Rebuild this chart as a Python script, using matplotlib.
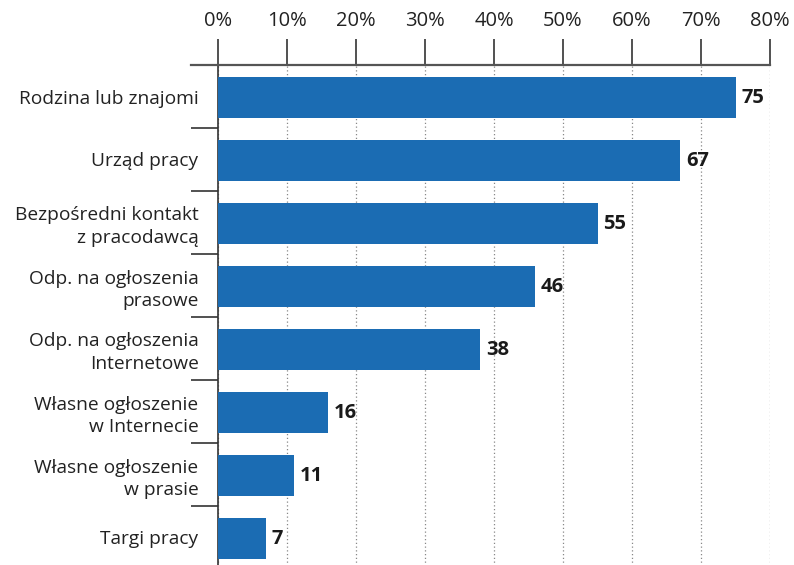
import matplotlib
matplotlib.use("Agg")
import matplotlib.pyplot as plt
from matplotlib.ticker import FixedLocator, FuncFormatter

plt.rcParams['font.family'] = ['Open Sans', 'DejaVu Sans']

categories = [
    "Rodzina lub znajomi",
    "Urząd pracy",
    "Bezpośredni kontakt\nz pracodawcą",
    "Odp. na ogłoszenia\nprasowe",
    "Odp. na ogłoszenia\nInternetowe",
    "Własne ogłoszenie\nw Internecie",
    "Własne ogłoszenie\nw prasie",
    "Targi pracy",
]
values = [75, 67, 55, 46, 38, 16, 11, 7]
x_ticks = [0, 10, 20, 30, 40, 50, 60, 70, 80]

BAR_COLOR = "#1b6cb3"
W, H = 794, 565
fig = plt.figure(figsize=(W / 100, H / 100), dpi=100)
left, right = 218 / W, 770 / W
top, bottom = 1 - 65 / H, 1 - 569 / H
ax = fig.add_axes([left, bottom, right - left, top - bottom])

ypos = list(range(len(categories)))
ax.barh([y + 0.02 for y in ypos], values, height=0.65, color=BAR_COLOR, zorder=3)

for y, v in zip(ypos, values):
    ax.text(v + 0.8, y + 0.02, f"{v}", va="center", ha="left",
            fontsize=14.5, fontweight="bold", color="#1a1a1a", zorder=4)

ax.set_xlim(0, 80)
ax.set_ylim(len(categories) - 0.5, -0.5)

# x axis on top
ax.xaxis.tick_top()
ax.set_xticks(x_ticks)
ax.xaxis.set_major_formatter(FuncFormatter(lambda v, p: f"{int(v)}%"))
ax.tick_params(axis="x", which="major", direction="out", length=18.5, width=1.1,
               color="#222222", labelsize=14.5, labelcolor="#222222", pad=6)

# category labels and separators
ax.set_yticks(ypos)
ax.set_yticklabels(categories, fontsize=13.8, color="#222222", ha="right",
                   linespacing=1.3)
ax.tick_params(axis="y", which="major", length=0, pad=14)
ax.yaxis.set_minor_locator(FixedLocator([i + 0.5 for i in range(len(categories) - 1)]))
ax.tick_params(axis="y", which="minor", direction="out", length=19.5, width=1.1,
               color="#222222")

ax.grid(axis="x", linestyle=(0, (1, 2)), color="#888888", linewidth=0.9, zorder=0)

for s in ["right", "bottom", "top"]:
    ax.spines[s].set_visible(False)
ax.spines["left"].set_color("#333333")
ax.spines["left"].set_linewidth(1.2)

# top rule extending past the category column
ax.plot([-27 / 552, 1], [1, 1], transform=ax.transAxes, color="#555555",
        linewidth=1.6, clip_on=False, zorder=5)

fig.savefig("out.png", dpi=100)
